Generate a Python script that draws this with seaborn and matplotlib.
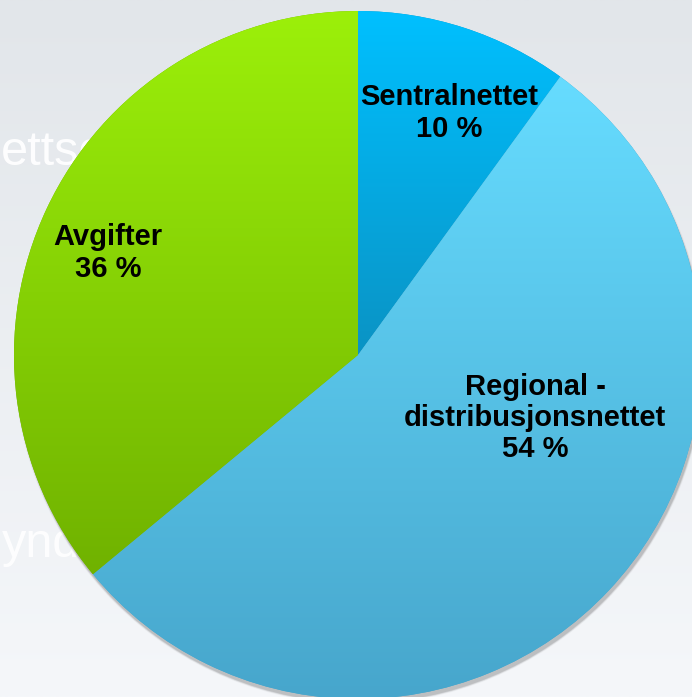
import numpy as np
import matplotlib
matplotlib.use("Agg")
import matplotlib.pyplot as plt
import seaborn as sns
from matplotlib.patches import Circle

# data
labels = ["Sentralnettet", "Regional -\ndistribusjonsnettet", "Avgifter"]
shares = [10, 54, 36]
pct_text = ["10 %", "54 %", "36 %"]
# gradient colours per slice (top, bottom)
grad_top = ["#00c0ff", "#66dcff", "#9cf00a"]
grad_bottom = ["#0a93c4", "#47a6cc", "#70b200"]
label_pos = [(449, 584), (535, 279), (108, 444)]

sns.set_style("white")
plt.rcParams["font.family"] = ["Liberation Sans", "DejaVu Sans"]

W, H = 692, 697
fig = plt.figure(figsize=(W / 100, H / 100), dpi=100)
ax = fig.add_axes([0, 0, 1, 1])

# background
bg = sns.blend_palette(["#f5f7fa", "#e2e6ea"], as_cmap=True)
ax.imshow(np.linspace(0, 1, 256).reshape(-1, 1), cmap=bg, aspect="auto",
          extent=(0, W, 0, H), origin="lower", zorder=0)

# faint slide text behind the pie
ax.text(1, 532, "ettsce", color="white", fontsize=35, alpha=0.95, zorder=1)
ax.text(2, 140, "ynd", color="white", fontsize=35, alpha=0.9, zorder=1)

cx, cy, r = 358, 342, 344

# soft shadow, mostly below the pie
for i, a in enumerate([0.04, 0.06, 0.09, 0.14]):
    ax.add_patch(Circle((cx + 1.5, cy - 4), r + 1.5 - 0.5 * i, color="#404040",
                        alpha=a, lw=0, zorder=2))

wedges, _ = ax.pie(shares, startangle=90, counterclock=False, center=(cx, cy),
                   radius=r, frame=True,
                   wedgeprops=dict(linewidth=0, zorder=3))

for w, top, bot in zip(wedges, grad_top, grad_bottom):
    w.set_facecolor(bot)
    ext = w.get_path().get_extents(w.get_patch_transform())
    cmap = sns.blend_palette([bot, top], as_cmap=True)
    im = ax.imshow(np.linspace(0, 1, 256).reshape(-1, 1), cmap=cmap, aspect="auto",
                   extent=(ext.x0, ext.x1, ext.y0, ext.y1), origin="lower", zorder=4)
    im.set_clip_path(w)

for lab, pct, (x, y) in zip(labels, pct_text, label_pos):
    ax.text(x, y, lab + "\n" + pct, ha="center", va="center", fontsize=21,
            fontweight="bold", color="black", linespacing=1.15, zorder=5)

ax.set_xlim(0, W)
ax.set_ylim(0, H)
ax.set_aspect("auto")
ax.axis("off")
fig.savefig("out.png", dpi=100)
